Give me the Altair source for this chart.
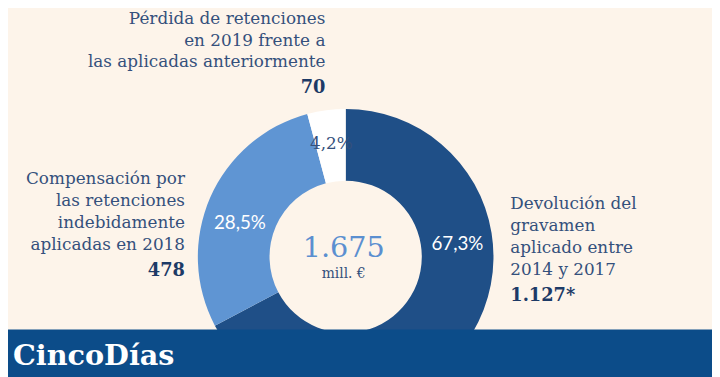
import altair as alt
import pandas as pd

categories = ["Devolución del gravamen aplicado entre 2014 y 2017",
              "Compensación por las retenciones indebidamente aplicadas en 2018",
              "Pérdida de retenciones en 2019 frente a las aplicadas anteriormente"]
values = [1127, 478, 70]
pct_labels = ["67,3%", "28,5%", "4,2%"]
slice_colors = ["#1f4f87", "#5f95d3", "#ffffff"]
total_label = "1.675"

BG = "#fdf4ea"
TXT = "#34507c"
BOLD = "#1d3a66"
BANNER = "#0c4c89"
SERIF = "DejaVu Serif"

df = pd.DataFrame({"cat": categories, "value": values, "idx": [0, 1, 2]})

CX, CY = 341.5, 245.5

donut = alt.Chart(df).mark_arc(radius=149.5, radius2=77, strokeWidth=0).encode(
    theta=alt.Theta("value:Q", stack=True),
    color=alt.Color("cat:N", scale=alt.Scale(domain=categories, range=slice_colors), legend=None),
    order=alt.Order("idx:Q"),
    x=alt.value(CX),
    y=alt.value(CY),
)

base = alt.Chart(pd.DataFrame({"a": [0]}))

def txt(text, x, y, size=17, color=TXT, align="left", weight="normal", font=SERIF, lh=22.3):
    return base.mark_text(align=align, baseline="alphabetic", fontSize=size, font=font,
                          color=color, fontWeight=weight, lineHeight=lh).encode(
        x=alt.value(x), y=alt.value(y), text=alt.value(text))

layers = [donut,
          txt(["Pérdida de retenciones", "en 2019 frente a", "las aplicadas anteriormente"], 321, 10, align="right", lh=22),
          txt(str(values[2]), 321, 80, align="right", weight="bold", color=BOLD, size=18),
          txt(["Compensación por", "las retenciones", "indebidamente", "aplicadas en 2018"], 179, 172, align="right"),
          txt(str(values[1]), 179, 265, align="right", weight="bold", color=BOLD, size=18),
          txt(["Devolución del", "gravamen", "aplicado entre", "2014 y 2017"], 508, 197, align="left"),
          txt("1.127*", 508, 290, align="left", weight="bold", color=BOLD, size=18),
          txt(pct_labels[0], 454.5, 239, align="center", color="#ffffff", size=19, font="Lato"),
          txt(pct_labels[1], 234.5, 217, align="center", color="#ffffff", size=19, font="Lato"),
          txt(pct_labels[2], 327, 137, align="center", color=TXT, size=17),
          txt(total_label, 339.5, 246, align="center", color="#5b8fd0", size=29),
          txt("mill. €", 339.5, 267, align="center", color=TXT, size=14),
          base.mark_rect(color=BANNER).encode(x=alt.value(0), x2=alt.value(712), y=alt.value(319), y2=alt.value(369)),
          txt("CincoDías", 5, 355, color="#ffffff", size=29, weight="bold", font=SERIF),
          ]

chart = alt.layer(*layers).properties(
    width=712, height=369, padding=0,
    autosize=alt.AutoSizeParams(type="fit", contains="padding"),
    background=BG,
).configure_view(stroke=None)

chart.save("out.html", embed_options={"renderer": "svg", "actions": False})
